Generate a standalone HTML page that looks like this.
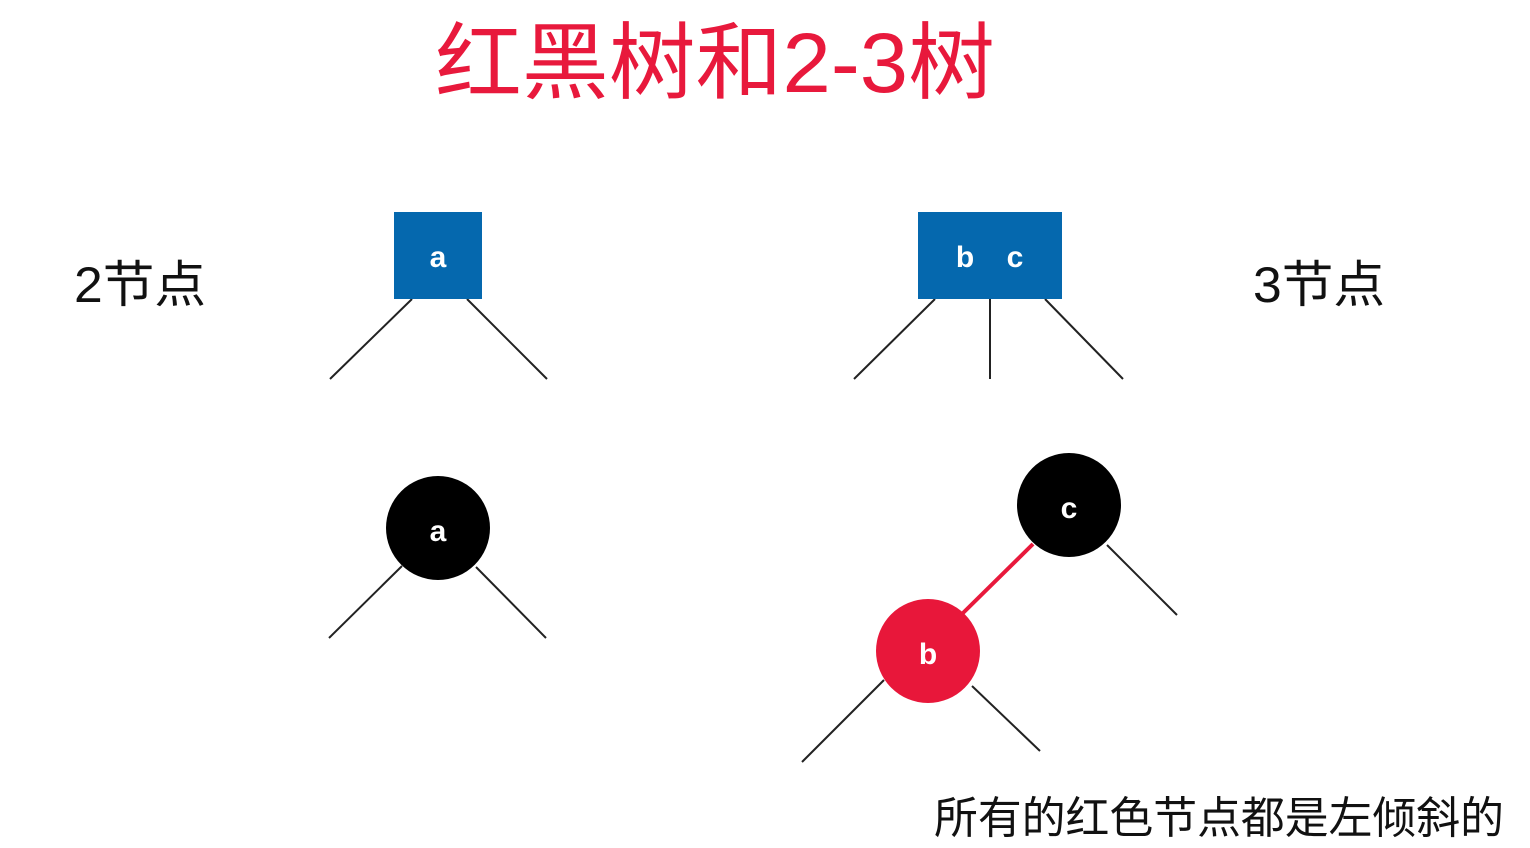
<!DOCTYPE html>
<html><head><meta charset="utf-8"><style>
html,body{margin:0;padding:0;background:#fff;}
body{width:1530px;height:848px;overflow:hidden;position:relative;}
svg{position:absolute;left:0;top:0;}
</style></head><body>
<svg width="1530" height="848" viewBox="0 0 1530 848" xmlns="http://www.w3.org/2000/svg">
<rect width="1530" height="848" fill="#fff"/>
<text x="715" y="92" text-anchor="middle" font-family="'Liberation Sans','Noto Sans CJK SC',sans-serif" font-size="84" fill="#e8193c" textLength="560" lengthAdjust="spacingAndGlyphs">红黑树和2-3树</text>
<text x="74" y="302" font-family="'Liberation Sans','Noto Sans CJK SC',sans-serif" font-size="50" fill="#111" textLength="132" lengthAdjust="spacingAndGlyphs">2节点</text>
<text x="1253" y="302" font-family="'Liberation Sans','Noto Sans CJK SC',sans-serif" font-size="50" fill="#111" textLength="132" lengthAdjust="spacingAndGlyphs">3节点</text>
<text x="934" y="833" font-family="'Liberation Sans','Noto Sans CJK SC',sans-serif" font-size="44" fill="#111" textLength="570" lengthAdjust="spacingAndGlyphs">所有的红色节点都是左倾斜的</text>
<g stroke="#222" stroke-width="2" fill="none">
<line x1="412" y1="299" x2="330" y2="379"/>
<line x1="467" y1="299" x2="547" y2="379"/>
<line x1="935" y1="299" x2="854" y2="379"/>
<line x1="990" y1="299" x2="990" y2="379"/>
<line x1="1045" y1="299" x2="1123" y2="379"/>
<line x1="402" y1="566" x2="329" y2="638"/>
<line x1="476" y1="567" x2="546" y2="638"/>
<line x1="1107" y1="545" x2="1177" y2="615"/>
<line x1="884" y1="680" x2="802" y2="762"/>
<line x1="972" y1="686" x2="1040" y2="751"/>
</g>
<line x1="1033" y1="544" x2="963" y2="613" stroke="#e8193c" stroke-width="4"/>
<rect x="394" y="212" width="88" height="87" fill="#0568ae"/>
<rect x="918" y="212" width="144" height="87" fill="#0568ae"/>
<circle cx="438" cy="528" r="52" fill="#000"/>
<circle cx="1069" cy="505" r="52" fill="#000"/>
<circle cx="928" cy="651" r="52" fill="#e8173a"/>
<g font-family="'Liberation Sans',sans-serif" font-weight="bold" font-size="30" fill="#fff" text-anchor="middle">
<text x="438" y="267">a</text>
<text x="965" y="267">b</text>
<text x="1015" y="267">c</text>
<text x="438" y="541">a</text>
<text x="1069" y="518">c</text>
<text x="928" y="664">b</text>
</g>
</svg>
</body></html>
